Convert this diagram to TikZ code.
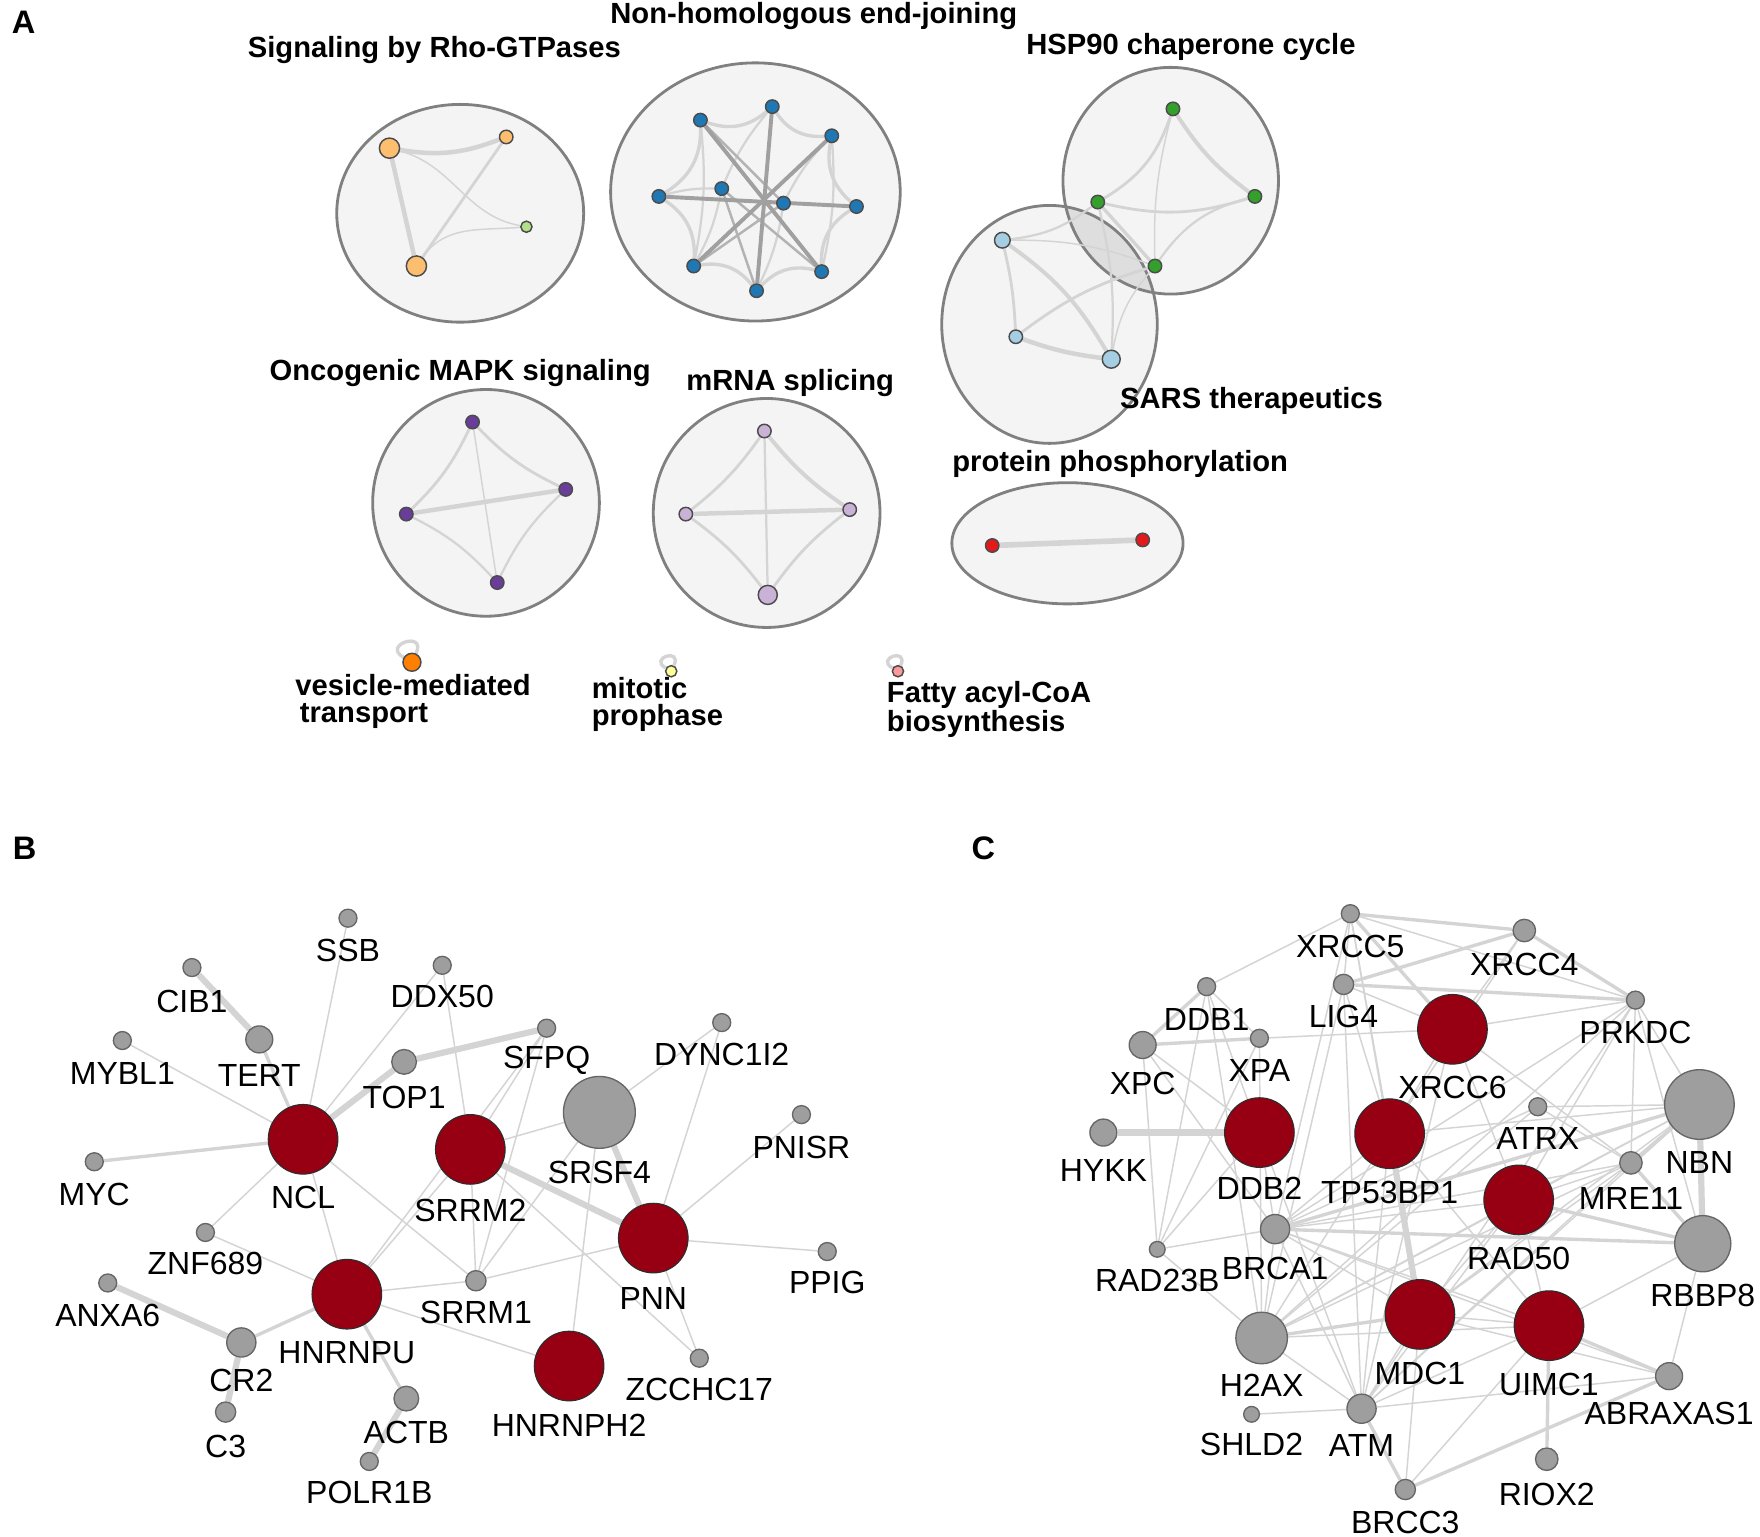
\documentclass[tikz,border=0pt]{standalone}
\usepackage{fontspec}
\setmainfont{Liberation Sans}
\pgfdeclarelayer{back}
\pgfdeclarelayer{edges}
\pgfsetlayers{back,edges,main}
\definecolor{cfill}{RGB}{244,244,244}
\definecolor{cborder}{RGB}{128,128,128}
\definecolor{lenscol}{RGB}{222,222,222}
\definecolor{egray}{RGB}{212,212,212}
\definecolor{edark}{RGB}{160,160,160}
\definecolor{nb}{RGB}{75,75,75}
\definecolor{gfill}{RGB}{158,158,158}
\definecolor{dred}{RGB}{150,0,18}
\definecolor{corange}{RGB}{253,191,111}
\definecolor{cgreenl}{RGB}{178,223,138}
\definecolor{cblue}{RGB}{31,120,180}
\definecolor{cgreen}{RGB}{51,160,44}
\definecolor{cbluel}{RGB}{166,206,227}
\definecolor{cpurple}{RGB}{106,61,154}
\definecolor{cpurplel}{RGB}{202,178,214}
\definecolor{cred}{RGB}{227,26,28}
\definecolor{corangeb}{RGB}{255,127,0}
\definecolor{cyellow}{RGB}{255,255,153}
\definecolor{cpink}{RGB}{251,154,153}
\newcommand{\gfont}{\fontsize{28.5}{30}\selectfont}
\newcommand{\tfont}{\fontsize{26}{24}\selectfont\bfseries}
\newcommand{\pfont}{\fontsize{29}{29}\selectfont\bfseries}
\tikzset{
  an/.style={circle, draw=nb, line width=1.3pt, inner sep=0pt, minimum size=#1},
  an/.default=12,
  gn/.style={circle, draw=nb!85, fill=gfill, line width=1.2pt, inner sep=0pt, minimum size=#1},
  rn/.style={circle, draw=nb!60!black, fill=dred, line width=1pt, inner sep=0pt, minimum size=#1},
  lab/.style={font=\gfont, inner sep=0pt},
  ttl/.style={font=\tfont, inner sep=0pt},
  plet/.style={font=\pfont, inner sep=0pt},
  eThin/.style={draw=egray, line width=1.3pt},
  eMid/.style={draw=egray, line width=3pt},
  eThick/.style={draw=egray, line width=5.5pt},
  eDark/.style={draw=edark, line width=3.5pt},
  clus/.style={draw=cborder, line width=2.5pt},
  selfloop/.style={draw=egray, line width=3pt, out=150, in=65, looseness=#1},
}
\begin{document}
\begin{tikzpicture}[x=1pt,y=-1pt]
\begin{pgfonlayer}{back}
\fill[white] (0,0) rectangle (1568,1369);
\end{pgfonlayer}
\useasboundingbox (0,0) rectangle (1568,1369);

% ---------------- panel letters
\node[plet] (LA) at (21,20) {A};
\node[plet] (LB) at (22,756) {B};
\node[plet] (LC) at (876,756) {C};

% ---------------- panel A clusters
\begin{pgfonlayer}{back}
\fill[cfill] (410,190) ellipse [x radius=110, y radius=97];
\fill[cfill] (673,171) ellipse [x radius=129, y radius=115];
\fill[cfill] (935,289) ellipse [x radius=96, y radius=106];
\fill[cfill] (1043,161) ellipse [x radius=96, y radius=101];
\begin{scope}
  \clip (1043,161) ellipse [x radius=96, y radius=101];
  \fill[lenscol] (935,289) ellipse [x radius=96, y radius=106];
\end{scope}
\fill[cfill] (433,448) ellipse [x radius=101, y radius=101];
\fill[cfill] (683,457) ellipse [x radius=101, y radius=102];
\fill[cfill] (951,484) ellipse [x radius=103, y radius=54];
\draw[clus] (410,190) ellipse [x radius=110, y radius=97];
\draw[clus] (673,171) ellipse [x radius=129, y radius=115];
\draw[clus] (935,289) ellipse [x radius=96, y radius=106];
\draw[clus] (1043,161) ellipse [x radius=96, y radius=101];
\draw[clus] (433,448) ellipse [x radius=101, y radius=101];
\draw[clus] (683,457) ellipse [x radius=101, y radius=102];
\draw[clus] (951,484) ellipse [x radius=103, y radius=54];
\end{pgfonlayer}

% titles
\node[ttl] (tRho) at (387,45) {Signaling by Rho-GTPases};
\node[ttl] (tNHEJ) at (725,14) {Non-homologous end-joining};
\node[ttl] (tHSP) at (1061,42) {HSP90 chaperone cycle};
\node[ttl] (tMAPK) at (410,332) {Oncogenic MAPK signaling};
\node[ttl] (tmRNA) at (704,341) {mRNA splicing};
\node[ttl] (tSARS) at (1115,357) {SARS therapeutics};
\node[ttl] (tPP) at (998,413) {protein phosphorylation};
\node[ttl, align=left, anchor=west] (tVes) at (263,625) {vesicle-mediated\\\hspace*{4pt}transport};
\node[ttl, align=left, anchor=west] (tMit) at (527,628) {mitotic\\prophase};
\node[ttl, align=left, anchor=west] (tFat) at (790,632) {Fatty acyl-CoA\\biosynthesis};

% Rho
\node[an=18, fill=corange] (r1) at (347,132) {};
\node[an=12, fill=corange] (r2) at (451,122) {};
\node[an=10, fill=cgreenl] (r3) at (469,202) {};
\node[an=18, fill=corange] (r4) at (371,237) {};
% NHEJ
\node[an, fill=cblue] (n1) at (624,107) {};
\node[an, fill=cblue] (n2) at (688,95) {};
\node[an, fill=cblue] (n3) at (741,121) {};
\node[an, fill=cblue] (n4) at (763,184) {};
\node[an, fill=cblue] (n5) at (732,242) {};
\node[an, fill=cblue] (n6) at (674,259) {};
\node[an, fill=cblue] (n7) at (618,237) {};
\node[an, fill=cblue] (n8) at (587,175) {};
\node[an, fill=cblue] (n9) at (643,168) {};
\node[an, fill=cblue] (n10) at (698,181) {};
% HSP90
\node[an, fill=cgreen] (h1) at (1045,97) {};
\node[an, fill=cgreen] (h2) at (1118,175) {};
\node[an, fill=cgreen] (h3) at (978,180) {};
\node[an, fill=cgreen] (h4) at (1029,237) {};
% SARS
\node[an=14, fill=cbluel] (s1) at (893,214) {};
\node[an=12, fill=cbluel] (s2) at (905,300) {};
\node[an=16, fill=cbluel] (s3) at (990,320) {};
% MAPK
\node[an, fill=cpurple] (m1) at (421,376) {};
\node[an, fill=cpurple] (m2) at (504,436) {};
\node[an, fill=cpurple] (m3) at (362,458) {};
\node[an, fill=cpurple] (m4) at (443,519) {};
% mRNA
\node[an, fill=cpurplel] (p1) at (681,384) {};
\node[an, fill=cpurplel] (p2) at (757,454) {};
\node[an, fill=cpurplel] (p3) at (611,458) {};
\node[an=17, fill=cpurplel] (p4) at (684,530) {};
% protein phosphorylation
\node[an, fill=cred] (q1) at (884,486) {};
\node[an, fill=cred] (q2) at (1018,481) {};
% singletons
\node[an=16, fill=corangeb] (v1) at (367,590) {};
\node[an=10, fill=cyellow] (w1) at (598,598) {};
\node[an=10, fill=cpink] (f1) at (800,598) {};

\begin{pgfonlayer}{edges}
% Rho
\draw[draw=egray, line width=4pt] (r1) to[bend right=15] (r2);
\draw[draw=egray, line width=4pt] (r1) -- (r4);
\draw[draw=egray, line width=2.5pt] (r2) -- (r4);
\draw[eThin] (r1) to[out=-15,in=170] (r3);
\draw[eThin] (r4) to[out=55,in=185] (r3);
% NHEJ
\foreach \a/\b in {n1/n2,n2/n3,n3/n4,n4/n5,n5/n6,n6/n7,n7/n8,n8/n1}
  \draw[draw=egray, line width=3pt] (\a) to[bend right=30] (\b);
\foreach \a/\b in {n1/n7,n3/n5,n8/n9,n9/n2,n10/n3,n10/n6,n9/n7}
  \draw[draw=egray, line width=2pt] (\a) to[bend left=8] (\b);
\foreach \a/\b in {n9/n5,n10/n7,n10/n1,n9/n6}
  \draw[draw=edark!80, line width=2.2pt] (\a) -- (\b);
\foreach \a/\b in {n1/n5,n2/n6,n3/n7,n8/n4}
  \draw[eDark] (\a) -- (\b);
% HSP90 / SARS
\draw[draw=egray, line width=2.5pt] (h1) to[bend left=20] (h3);
\draw[draw=egray, line width=3.5pt] (h1) to[bend right=10] (h2);
\draw[eThin] (h1) to[bend right=8] (h4);
\draw[draw=egray, line width=2.5pt] (h3) to[bend right=15] (h2);
\draw[draw=egray, line width=3pt] (h3) -- (h4);
\draw[draw=egray, line width=2pt] (h2) to[bend right=20] (h4);
\draw[draw=egray, line width=2.5pt] (s1) to[bend left=5] (s2);
\draw[draw=egray, line width=3.5pt] (s1) to[bend left=12] (s3);
\draw[draw=egray, line width=4pt] (s2) to[bend right=6] (s3);
\draw[draw=egray, line width=2pt] (s1) to[bend right=15] (h3);
\draw[draw=egray, line width=2.5pt] (s2) to[bend left=10] (h4);
\draw[draw=egray, line width=2pt] (s3) to[bend right=8] (h3);
\draw[eThin] (s3) to[bend left=15] (h4);
\draw[eThin] (s1) to[bend left=10] (h4);
% MAPK
\draw[draw=egray, line width=2.5pt] (m1) to[bend right=10] (m2);
\draw[draw=egray, line width=2.5pt] (m1) to[bend left=10] (m3);
\draw[eThin] (m1) -- (m4);
\draw[draw=egray, line width=4pt] (m3) -- (m2);
\draw[draw=egray, line width=2pt] (m3) to[bend left=10] (m4);
\draw[draw=egray, line width=2pt] (m2) to[bend right=10] (m4);
% mRNA
\draw[draw=egray, line width=3.5pt] (p1) to[bend right=8] (p2);
\draw[draw=egray, line width=2.5pt] (p1) to[bend left=8] (p3);
\draw[draw=egray, line width=2pt] (p1) -- (p4);
\draw[draw=egray, line width=4pt] (p3) -- (p2);
\draw[draw=egray, line width=2.5pt] (p3) to[bend left=8] (p4);
\draw[draw=egray, line width=2.5pt] (p2) to[bend right=8] (p4);
% protein phosphorylation
\draw[draw=egray, line width=5pt] (q1) -- (q2);
% self loops
\draw[selfloop=5] (v1) to (v1);
\draw[selfloop=6] (w1) to (w1);
\draw[selfloop=6] (f1) to (f1);
\end{pgfonlayer}

% ---------------- panel B
\node[gn=16] (SSB) at (310,818) {};
\node[gn=16] (CIB1) at (171,862) {};
\node[gn=16] (DDX50) at (394,860) {};
\node[gn=24] (TERT) at (231,926) {};
\node[gn=16] (MYBL1) at (109,927) {};
\node[gn=16] (SFPQ) at (487,916) {};
\node[gn=22] (TOP1) at (360,946) {};
\node[gn=16] (DYNC1I2) at (643,911) {};
\node[gn=64] (SRSF4) at (534,991) {};
\node[gn=16] (PNISR) at (714,993) {};
\node[rn=62] (NCL) at (270,1015) {};
\node[rn=62] (SRRM2) at (419,1024) {};
\node[gn=16] (MYC) at (84,1035) {};
\node[rn=62] (PNN) at (582,1103) {};
\node[gn=16] (ZNF689) at (183,1098) {};
\node[gn=16] (PPIG) at (737,1115) {};
\node[gn=16] (ANXA6) at (96,1143) {};
\node[gn=18] (SRRM1) at (424,1141) {};
\node[rn=62] (HNRNPU) at (309,1153) {};
\node[gn=26] (CR2) at (215,1196) {};
\node[gn=16] (ZCCHC17) at (623,1210) {};
\node[rn=62] (HNRNPH2) at (507,1217) {};
\node[gn=18] (C3) at (201,1258) {};
\node[gn=22] (ACTB) at (362,1246) {};
\node[gn=16] (POLR1B) at (329,1302) {};

\node[lab] (lSSB) at (310,847) {SSB};
\node[lab] (lCIB1) at (171,892) {CIB1};
\node[lab] (lDDX50) at (394,888) {DDX50};
\node[lab] (lTERT) at (231,958) {TERT};
\node[lab] (lMYBL1) at (109,956) {MYBL1};
\node[lab] (lSFPQ) at (487,945) {SFPQ};
\node[lab] (lTOP1) at (360,978) {TOP1};
\node[lab] (lDYNC1I2) at (643,939) {DYNC1I2};
\node[lab] (lSRSF4) at (534,1045) {SRSF4};
\node[lab] (lPNISR) at (714,1022) {PNISR};
\node[lab] (lNCL) at (270,1067) {NCL};
\node[lab] (lSRRM2) at (419,1078) {SRRM2};
\node[lab] (lMYC) at (84,1064) {MYC};
\node[lab] (lPNN) at (582,1157) {PNN};
\node[lab] (lZNF689) at (183,1126) {ZNF689};
\node[lab] (lPPIG) at (737,1143) {PPIG};
\node[lab] (lANXA6) at (96,1172) {ANXA6};
\node[lab] (lSRRM1) at (424,1169) {SRRM1};
\node[lab] (lHNRNPU) at (309,1205) {HNRNPU};
\node[lab] (lCR2) at (215,1230) {CR2};
\node[lab] (lZCCHC17) at (623,1238) {ZCCHC17};
\node[lab] (lHNRNPH2) at (507,1270) {HNRNPH2};
\node[lab] (lC3) at (201,1289) {C3};
\node[lab] (lACTB) at (362,1276) {ACTB};
\node[lab] (lPOLR1B) at (329,1330) {POLR1B};

\begin{pgfonlayer}{edges}
\foreach \a/\b in {MYBL1/NCL,SSB/NCL,DDX50/NCL,DDX50/SRRM2,NCL/ZNF689,NCL/HNRNPU,NCL/SRRM1,
  SFPQ/SRRM2,SFPQ/SRRM1,SFPQ/HNRNPU,SRSF4/SRRM2,SRSF4/DYNC1I2,SRSF4/SRRM1,SRSF4/HNRNPH2,
  SRRM2/SRRM1,SRRM2/HNRNPU,SRRM2/ZCCHC17,PNN/DYNC1I2,PNN/PNISR,PNN/PPIG,PNN/SRRM1,PNN/ZCCHC17,
  HNRNPU/SRRM1,HNRNPU/HNRNPH2,HNRNPU/ZNF689}
  \draw[eThin] (\a) -- (\b);
\foreach \a/\b in {TERT/NCL,MYC/NCL,HNRNPU/CR2,HNRNPU/ACTB}
  \draw[eMid] (\a) -- (\b);
\foreach \a/\b in {CIB1/TERT,TOP1/NCL,TOP1/SFPQ,SRSF4/PNN,SRRM2/PNN,ANXA6/CR2,CR2/C3,ACTB/POLR1B}
  \draw[eThick] (\a) -- (\b);
\end{pgfonlayer}

% ---------------- panel C
\node[gn=16] (XRCC5) at (1203,814) {};
\node[gn=20] (XRCC4) at (1358,829) {};
\node[gn=16] (DDB1) at (1075,879) {};
\node[gn=18] (LIG4) at (1197,877) {};
\node[rn=62] (XRCC6) at (1294,917) {};
\node[gn=16] (PRKDC) at (1457,891) {};
\node[gn=24] (XPC) at (1018,931) {};
\node[gn=16] (XPA) at (1122,925) {};
\node[gn=24] (HYKK) at (983,1009) {};
\node[rn=62] (DDB2) at (1122,1009) {};
\node[rn=62] (TP53BP1) at (1238,1010) {};
\node[gn=16] (ATRX) at (1370,986) {};
\node[gn=62] (NBN) at (1514,984) {};
\node[gn=20] (MRE11) at (1453,1036) {};
\node[rn=62] (RAD50) at (1353,1069) {};
\node[gn=26] (BRCA1) at (1136,1095) {};
\node[gn=14] (RAD23B) at (1031,1113) {};
\node[gn=50] (RBBP8) at (1517,1108) {};
\node[gn=46] (H2AX) at (1124,1192) {};
\node[rn=62] (MDC1) at (1265,1171) {};
\node[rn=62] (UIMC1) at (1380,1181) {};
\node[gn=24] (ABRAXAS1) at (1487,1226) {};
\node[gn=14] (SHLD2) at (1115,1260) {};
\node[gn=26] (ATM) at (1213,1255) {};
\node[gn=20] (RIOX2) at (1378,1300) {};
\node[gn=18] (BRCC3) at (1252,1327) {};

\node[lab] (lXRCC5) at (1203,843) {XRCC5};
\node[lab] (lXRCC4) at (1358,859) {XRCC4};
\node[lab] (lDDB1) at (1075,908) {DDB1};
\node[lab] (lLIG4) at (1197,906) {LIG4};
\node[lab] (lXRCC6) at (1294,969) {XRCC6};
\node[lab] (lPRKDC) at (1457,920) {PRKDC};
\node[lab] (lXPC) at (1018,965) {XPC};
\node[lab] (lXPA) at (1122,954) {XPA};
\node[lab] (lHYKK) at (983,1043) {HYKK};
\node[lab] (lDDB2) at (1122,1059) {DDB2};
\node[lab] (lTP53BP1) at (1238,1062) {TP53BP1};
\node[lab] (lATRX) at (1370,1014) {ATRX};
\node[lab] (lNBN) at (1514,1036) {NBN};
\node[lab] (lMRE11) at (1453,1068) {MRE11};
\node[lab] (lRAD50) at (1353,1121) {RAD50};
\node[lab] (lBRCA1) at (1136,1130) {BRCA1};
\node[lab] (lRAD23B) at (1031,1141) {RAD23B};
\node[lab] (lRBBP8) at (1517,1154) {RBBP8};
\node[lab] (lH2AX) at (1124,1234) {H2AX};
\node[lab] (lMDC1) at (1265,1224) {MDC1};
\node[lab] (lUIMC1) at (1380,1233) {UIMC1};
\node[lab] (lABRAXAS1) at (1487,1259) {ABRAXAS1};
\node[lab] (lSHLD2) at (1115,1287) {SHLD2};
\node[lab] (lATM) at (1213,1288) {ATM};
\node[lab] (lRIOX2) at (1378,1331) {RIOX2};
\node[lab] (lBRCC3) at (1252,1356) {BRCC3};

\begin{pgfonlayer}{edges}
\foreach \a/\b in {XRCC5/DDB1,XRCC5/LIG4,XRCC5/PRKDC,XRCC5/TP53BP1,XRCC5/BRCA1,XRCC5/MDC1,
  XRCC4/XRCC6,XRCC4/TP53BP1,LIG4/XRCC6,LIG4/TP53BP1,LIG4/ATM,LIG4/H2AX,
  PRKDC/XRCC6,PRKDC/NBN,PRKDC/MRE11,PRKDC/RAD50,PRKDC/ATM,PRKDC/H2AX,PRKDC/BRCA1,PRKDC/RBBP8,
  XRCC6/MRE11,XRCC6/ATM,XRCC6/TP53BP1,XRCC6/RAD50,
  DDB1/DDB2,DDB1/RAD23B,DDB1/H2AX,DDB1/XPA,XPC/DDB2,XPC/RAD23B,XPC/BRCA1,
  XPA/DDB2,XPA/XRCC6,XPA/RAD23B,XPA/H2AX,DDB2/RAD23B,DDB2/BRCA1,DDB2/ATM,
  TP53BP1/H2AX,TP53BP1/NBN,TP53BP1/BRCA1,TP53BP1/ATM,TP53BP1/UIMC1,
  ATRX/NBN,ATRX/MRE11,ATRX/H2AX,ATRX/BRCA1,NBN/RAD50,NBN/H2AX,NBN/MDC1,NBN/ATM,
  MRE11/RAD50,MRE11/BRCA1,MRE11/H2AX,MRE11/MDC1,MRE11/ATM,
  RAD50/BRCA1,RAD50/H2AX,RAD50/ATM,RAD50/MDC1,RAD50/UIMC1,
  BRCA1/H2AX,BRCA1/MDC1,BRCA1/UIMC1,BRCA1/ATM,BRCA1/ABRAXAS1,BRCA1/RAD23B,
  RBBP8/ABRAXAS1,RBBP8/UIMC1,H2AX/ATM,H2AX/UIMC1,MDC1/UIMC1,MDC1/ATM,MDC1/BRCC3,
  MDC1/ABRAXAS1,UIMC1/BRCC3,UIMC1/ATM,ATM/SHLD2,ATM/ABRAXAS1,RAD23B/H2AX}
  \draw[eThin] (\a) -- (\b);
\foreach \a/\b in {XRCC5/XRCC4,XRCC4/LIG4,LIG4/PRKDC,XRCC5/XRCC6,XRCC4/PRKDC,XPC/DDB1,XPC/XPA,
  NBN/MRE11,MRE11/RBBP8,RAD50/RBBP8,UIMC1/RIOX2,ABRAXAS1/UIMC1,ATM/BRCC3,BRCC3/ABRAXAS1,
  BRCA1/RBBP8,BRCA1/NBN,H2AX/MDC1}
  \draw[eMid] (\a) -- (\b);
\foreach \a/\b in {TP53BP1/MDC1,HYKK/DDB2,NBN/RBBP8}
  \draw[eThick] (\a) -- (\b);
\end{pgfonlayer}
\end{tikzpicture}
\end{document}
